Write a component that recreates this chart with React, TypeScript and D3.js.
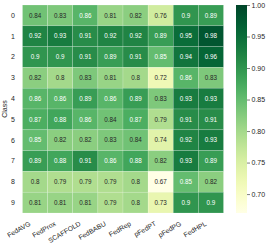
import React, { useEffect, useRef } from 'react';
import * as d3 from 'd3';

const methods = ['FedAVG', 'FedProx', 'SCAFFOLD', 'FedBABU', 'FedRep', 'pFedPT', 'pFedPG', 'FedHPL'];
const classes = ['0', '1', '2', '3', '4', '5', '6', '7', '8', '9'];
const values: number[][] = [
  [0.84, 0.83, 0.86, 0.81, 0.82, 0.76, 0.9, 0.89],
  [0.92, 0.93, 0.91, 0.92, 0.92, 0.89, 0.95, 0.98],
  [0.9, 0.9, 0.91, 0.89, 0.91, 0.85, 0.94, 0.96],
  [0.82, 0.8, 0.83, 0.81, 0.8, 0.72, 0.86, 0.83],
  [0.86, 0.86, 0.89, 0.86, 0.89, 0.83, 0.93, 0.93],
  [0.87, 0.88, 0.86, 0.84, 0.87, 0.79, 0.91, 0.91],
  [0.85, 0.82, 0.82, 0.83, 0.84, 0.74, 0.92, 0.93],
  [0.89, 0.88, 0.91, 0.86, 0.88, 0.82, 0.93, 0.89],
  [0.8, 0.79, 0.79, 0.79, 0.8, 0.67, 0.85, 0.82],
  [0.81, 0.81, 0.81, 0.79, 0.8, 0.73, 0.9, 0.9],
];
const barTicks = [0.7, 0.75, 0.8, 0.85, 0.9, 0.95, 1.0];
const vmin = 0.67;
const vmax = 1.0;

const FONT = '"Liberation Sans", Arial, sans-serif';

const App: React.FC = () => {
  const svgRef = useRef<SVGSVGElement | null>(null);

  useEffect(() => {
    if (!svgRef.current) return;
    const width = 266;
    const height = 244;
    const plot = { left: 22.5, right: 223.5, top: 5, bottom: 213 };
    const bar = { left: 236, right: 247 };

    const svg = d3.select(svgRef.current);
    svg.selectAll('*').remove();
    svg.attr('width', width).attr('height', height);

    const x = d3.scaleBand<string>().domain(methods).range([plot.left, plot.right]);
    const y = d3.scaleBand<string>().domain(classes).range([plot.top, plot.bottom]);
    const color = d3.scaleSequential(d3.interpolateYlGn).domain([vmin, vmax]);

    // relative luminance, used to pick annotation colour like seaborn
    const luminance = (c: string) => {
      const rgb = d3.rgb(c);
      const lin = (v: number) => {
        const s = v / 255;
        return s <= 0.03928 ? s / 12.92 : Math.pow((s + 0.055) / 1.055, 2.4);
      };
      return 0.2126 * lin(rgb.r) + 0.7152 * lin(rgb.g) + 0.0722 * lin(rgb.b);
    };

    const cells = values.flatMap((row, i) =>
      row.map((v, j) => ({ row: classes[i], col: methods[j], v }))
    );

    // Heatmap cells
    svg
      .append('g')
      .selectAll('rect')
      .data(cells)
      .enter()
      .append('rect')
      .attr('x', (d) => x(d.col) as number)
      .attr('y', (d) => y(d.row) as number)
      .attr('width', x.bandwidth())
      .attr('height', y.bandwidth())
      .attr('fill', (d) => color(d.v))
      .attr('stroke', 'rgba(255,255,255,0.35)')
      .attr('stroke-width', 0.5);

    // Annotations
    svg
      .append('g')
      .selectAll('text')
      .data(cells)
      .enter()
      .append('text')
      .attr('x', (d) => (x(d.col) as number) + x.bandwidth() / 2)
      .attr('y', (d) => (y(d.row) as number) + y.bandwidth() / 2)
      .attr('dy', '0.35em')
      .attr('text-anchor', 'middle')
      .attr('font-family', FONT)
      .attr('font-size', '6.3px')
      .attr('fill', (d) => (luminance(color(d.v)) < 0.408 ? '#ffffff' : '#262626'))
      .text((d) => String(d.v));

    // Row labels
    svg
      .append('g')
      .selectAll('text')
      .data(classes)
      .enter()
      .append('text')
      .attr('x', 15)
      .attr('y', (d) => (y(d) as number) + y.bandwidth() / 2)
      .attr('dy', '0.35em')
      .attr('text-anchor', 'end')
      .attr('font-family', FONT)
      .attr('font-size', '7px')
      .attr('fill', '#262626')
      .text((d) => d);

    svg
      .append('text')
      .attr('transform', `translate(7, ${(plot.top + plot.bottom) / 2}) rotate(-90)`)
      .attr('text-anchor', 'middle')
      .attr('font-family', FONT)
      .attr('font-size', '7px')
      .attr('fill', '#262626')
      .text('Class');

    // Column labels, rotated
    svg
      .append('g')
      .selectAll('text')
      .data(methods)
      .enter()
      .append('text')
      .attr('transform', (d) => {
        const cx = (x(d) as number) + x.bandwidth() / 2 - 4;
        return `translate(${cx}, ${plot.bottom + 12}) rotate(-30)`;
      })
      .attr('text-anchor', 'end')
      .attr('font-family', FONT)
      .attr('font-size', '6.8px')
      .attr('fill', '#262626')
      .text((d) => d);

    // Colorbar
    const defs = svg.append('defs');
    const grad = defs
      .append('linearGradient')
      .attr('id', 'cbar')
      .attr('x1', 0)
      .attr('y1', 1)
      .attr('x2', 0)
      .attr('y2', 0);
    d3.range(0, 1.0001, 0.05).forEach((t) => {
      grad
        .append('stop')
        .attr('offset', t)
        .attr('stop-color', color(vmin + t * (vmax - vmin)));
    });
    svg
      .append('rect')
      .attr('x', bar.left)
      .attr('y', plot.top)
      .attr('width', bar.right - bar.left)
      .attr('height', plot.bottom - plot.top)
      .attr('fill', 'url(#cbar)');

    const yBar = d3.scaleLinear().domain([vmin, vmax]).range([plot.bottom, plot.top]);
    const axis = svg
      .append('g')
      .attr('transform', `translate(${bar.right},0)`)
      .call(
        d3
          .axisRight(yBar)
          .tickValues(barTicks)
          .tickSize(3)
          .tickPadding(1.5)
          .tickFormat(d3.format('.2f'))
      );
    axis.select('.domain').remove();
    axis.selectAll('line').attr('stroke', '#262626').attr('stroke-width', 0.6);
    axis
      .selectAll('text')
      .attr('fill', '#262626')
      .attr('font-family', FONT)
      .attr('font-size', '7px');
  }, []);

  return (
    <div style={{ position: 'absolute', left: 0, top: 0 }}>
      <svg ref={svgRef} width={266} height={244} style={{ display: 'block' }} />
    </div>
  );
};

export default App;
